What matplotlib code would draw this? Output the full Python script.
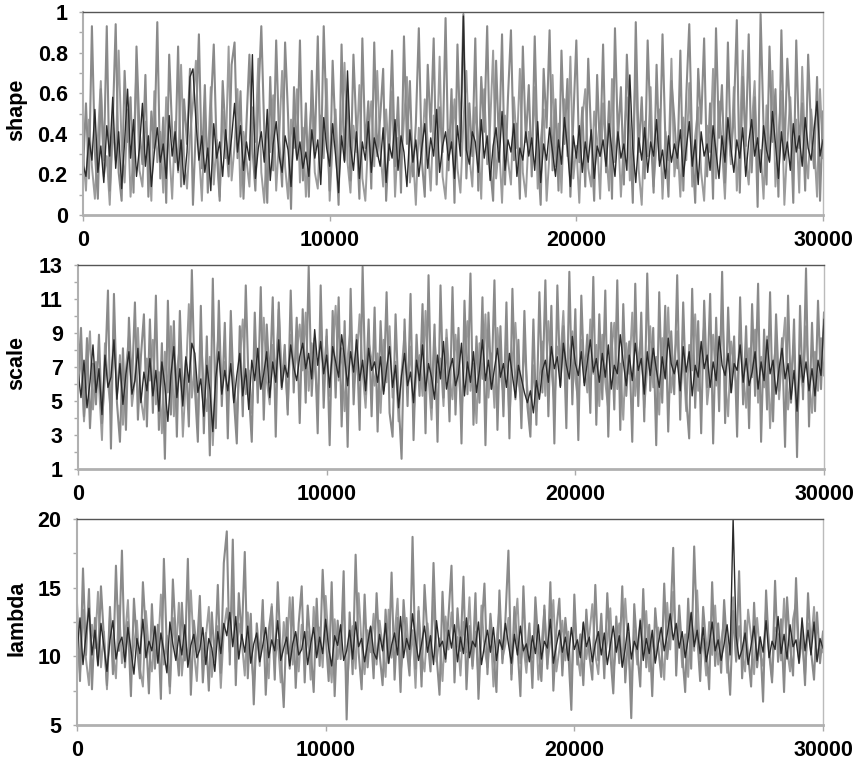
import matplotlib.pyplot as plt
import numpy as np
from matplotlib.ticker import FuncFormatter

plt.rcParams['font.family'] = ['Liberation Sans', 'DejaVu Sans']

# MCMC traces, three overlaid chains per parameter (one value every ~120 iterations)
shape_gray = [
    0.22, 0.55, 0.18, 0.93, 0.31, 0.08, 0.62, 0.27, 0.93, 0.12, 0.45, 0.94, 0.21, 0.07, 0.71, 0.36, 0.58, 0.11, 0.83, 0.42, 0.25, 0.69, 0.09, 0.51, 0.33,
    0.95, 0.18, 0.48, 0.06, 0.79, 0.41, 0.26, 0.83, 0.14, 0.57, 0.35, 0.72, 0.05, 0.44, 0.89, 0.23, 0.64, 0.11, 0.52, 0.84, 0.31, 0.07, 0.66, 0.39, 0.19,
    0.74, 0.85, 0.28, 0.61, 0.08, 0.45, 0.79, 0.33, 0.12, 0.57, 0.93, 0.41, 0.06, 0.68, 0.22, 0.86, 0.37, 0.14, 0.85, 0.49, 0.03, 0.63, 0.28, 0.86, 0.17,
    0.55, 0.09, 0.71, 0.32, 0.88, 0.21, 0.93, 0.44, 0.12, 0.76, 0.38, 0.05, 0.84, 0.27, 0.61, 0.17, 0.79, 0.42, 0.08, 0.87, 0.33, 0.56, 0.13, 0.85, 0.29,
    0.48, 0.72, 0.07, 0.38, 0.81, 0.24, 0.58, 0.11, 0.88, 0.35, 0.66, 0.19, 0.45, 0.92, 0.27, 0.09, 0.74, 0.41, 0.87, 0.15, 0.53, 0.31, 0.97, 0.22, 0.62,
    0.06, 0.84, 0.36, 0.99, 0.18, 0.55, 0.29, 0.87, 0.12, 0.68, 0.41, 0.93, 0.24, 0.07, 0.76, 0.33, 0.89, 0.15, 0.58, 0.91, 0.27, 0.45, 0.08, 0.83, 0.36,
    0.64, 0.19, 0.88, 0.31, 0.05, 0.72, 0.43, 0.91, 0.22, 0.57, 0.12, 0.81, 0.35, 0.67, 0.09, 0.48, 0.86, 0.26, 0.53, 0.14, 0.77, 0.38, 0.07, 0.69, 0.29,
    0.84, 0.21, 0.56, 0.08, 0.92, 0.37, 0.63, 0.15, 0.79, 0.44, 0.06, 0.95, 0.31, 0.58, 0.18, 0.86, 0.42, 0.11, 0.74, 0.27, 0.89, 0.35, 0.09, 0.66, 0.47,
    0.23, 0.81, 0.12, 0.59, 0.94, 0.33, 0.06, 0.72, 0.45, 0.87, 0.19, 0.55, 0.08, 0.92, 0.38, 0.64, 0.16, 0.85, 0.29, 0.49, 0.96, 0.11, 0.68, 0.34, 0.89,
    0.21, 0.58, 0.04, 0.99, 0.43, 0.15, 0.83, 0.36, 0.62, 0.09, 0.91, 0.28, 0.77, 0.47, 0.06, 0.86, 0.33, 0.55, 0.12, 0.79, 0.41, 0.23, 0.68, 0.07, 0.51,
]
shape_gray2 = [
    0.31, 0.12, 0.47, 0.24, 0.08, 0.38, 0.66, 0.19, 0.29, 0.05, 0.43, 0.27, 0.81, 0.34, 0.16, 0.52, 0.09, 0.31, 0.73, 0.22, 0.14, 0.46, 0.35, 0.07, 0.61,
    0.26, 0.41, 0.11, 0.58, 0.33, 0.08, 0.46, 0.21, 0.74, 0.29, 0.13, 0.39, 0.55, 0.76, 0.32, 0.07, 0.48, 0.26, 0.63, 0.15, 0.37, 0.09, 0.51, 0.28, 0.83,
    0.17, 0.34, 0.62, 0.09, 0.41, 0.27, 0.14, 0.53, 0.36, 0.77, 0.21, 0.06, 0.45, 0.31, 0.59, 0.12, 0.38, 0.71, 0.24, 0.08, 0.47, 0.33, 0.62, 0.16, 0.43,
    0.09, 0.36, 0.58, 0.21, 0.13, 0.49, 0.28, 0.67, 0.07, 0.35, 0.52, 0.19, 0.41, 0.75, 0.26, 0.11, 0.44, 0.31, 0.64, 0.18, 0.07, 0.39, 0.56, 0.24, 0.71,
    0.33, 0.14, 0.52, 0.27, 0.61, 0.09, 0.38, 0.22, 0.47, 0.68, 0.16, 0.31, 0.05, 0.43, 0.26, 0.57, 0.35, 0.12, 0.49, 0.28, 0.78, 0.19, 0.08, 0.42, 0.33,
    0.57, 0.23, 0.11, 0.46, 0.71, 0.29, 0.14, 0.53, 0.37, 0.08, 0.62, 0.25, 0.44, 0.81, 0.18, 0.35, 0.06, 0.49, 0.27, 0.15, 0.58, 0.33, 0.72, 0.21, 0.09,
    0.41, 0.28, 0.63, 0.13, 0.36, 0.52, 0.07, 0.31, 0.69, 0.24, 0.45, 0.11, 0.57, 0.29, 0.78, 0.18, 0.34, 0.06, 0.47, 0.62, 0.23, 0.14, 0.51, 0.37, 0.08,
    0.55, 0.32, 0.12, 0.67, 0.26, 0.43, 0.09, 0.38, 0.58, 0.17, 0.31, 0.74, 0.22, 0.05, 0.46, 0.29, 0.63, 0.14, 0.35, 0.52, 0.08, 0.41, 0.27, 0.77, 0.19,
    0.36, 0.09, 0.48, 0.27, 0.65, 0.14, 0.39, 0.53, 0.21, 0.07, 0.44, 0.31, 0.72, 0.18, 0.56, 0.33, 0.08, 0.47, 0.25, 0.63, 0.12, 0.38, 0.81, 0.29, 0.15,
    0.43, 0.66, 0.19, 0.32, 0.08, 0.54, 0.27, 0.71, 0.14, 0.39, 0.61, 0.05, 0.35, 0.58, 0.24, 0.47, 0.11, 0.73, 0.31, 0.18, 0.52, 0.36, 0.09, 0.62, 0.28,
]
shape_black = [
    0.25, 0.19, 0.38, 0.27, 0.52, 0.21, 0.34, 0.16, 0.44, 0.29, 0.58, 0.23, 0.41, 0.13, 0.36, 0.62, 0.28, 0.47, 0.19, 0.33, 0.55, 0.24, 0.39, 0.14, 0.31,
    0.43, 0.26, 0.35, 0.18, 0.49, 0.29, 0.41, 0.22, 0.37, 0.15, 0.31, 0.68, 0.72, 0.46, 0.27, 0.39, 0.21, 0.33, 0.12, 0.45, 0.28, 0.36, 0.19, 0.42, 0.25,
    0.38, 0.55, 0.31, 0.44, 0.22, 0.36, 0.27, 0.79, 0.18, 0.33, 0.41, 0.26, 0.52, 0.17, 0.35, 0.46, 0.29, 0.21, 0.39, 0.32, 0.14, 0.43, 0.27, 0.36, 0.23,
    0.31, 0.19, 0.42, 0.28, 0.37, 0.15, 0.48, 0.33, 0.24, 0.45, 0.29, 0.11, 0.39, 0.26, 0.71, 0.34, 0.22, 0.41, 0.18, 0.36, 0.27, 0.46, 0.21, 0.38, 0.31,
    0.24, 0.43, 0.16, 0.35, 0.28, 0.47, 0.22, 0.39, 0.31, 0.14, 0.42, 0.26, 0.37, 0.19, 0.33, 0.45, 0.23, 0.38, 0.29, 0.52, 0.21, 0.34, 0.41, 0.27, 0.36,
    0.18, 0.44, 0.29, 0.98, 0.32, 0.25, 0.41, 0.36, 0.21, 0.47, 0.28, 0.39, 0.17, 0.34, 0.43, 0.26, 0.51, 0.22, 0.37, 0.31, 0.45, 0.19, 0.33, 0.27, 0.41,
    0.29, 0.38, 0.22, 0.46, 0.16, 0.35, 0.27, 0.43, 0.31, 0.19, 0.37, 0.25, 0.48, 0.33, 0.14, 0.39, 0.28, 0.44, 0.21, 0.36, 0.26, 0.42, 0.18, 0.34, 0.29,
    0.37, 0.24, 0.45, 0.31, 0.19, 0.41, 0.28, 0.35, 0.22, 0.69, 0.33, 0.16, 0.38, 0.27, 0.43, 0.21, 0.36, 0.29, 0.47, 0.24, 0.32, 0.18, 0.39, 0.26, 0.35,
    0.28, 0.42, 0.19, 0.33, 0.46, 0.24, 0.37, 0.15, 0.41, 0.29, 0.35, 0.22, 0.44, 0.31, 0.18, 0.39, 0.26, 0.48, 0.33, 0.21, 0.37, 0.28, 0.43, 0.19, 0.36,
    0.47, 0.29, 0.38, 0.21, 0.44, 0.32, 0.26, 0.51, 0.35, 0.18, 0.41, 0.27, 0.36, 0.22, 0.45, 0.31, 0.39, 0.24, 0.48, 0.33, 0.27, 0.42, 0.56, 0.29, 0.37,
]

scale_gray = [
    6.2, 9.3, 4.1, 8.7, 3.4, 7.2, 4.8, 8.9, 3.7, 6.5, 11.5, 2.2, 11.3, 4.9, 2.6, 8.1, 3.3, 9.9, 5.8, 10.8, 3.9, 7.6, 10.1, 3.5, 9.8,
    4.3, 11.2, 3.3, 8.4, 1.6, 10.9, 4.2, 9.7, 2.9, 10.3, 5.1, 7.4, 3.5, 12.7, 5.8, 2.6, 10.6, 3.1, 8.8, 1.8, 12.2, 3.4, 10.9, 4.7, 9.6,
    2.8, 10.3, 5.2, 2.5, 9.4, 4.1, 11.8, 5.6, 2.6, 10.2, 4.9, 11.7, 3.9, 9.5, 6.1, 11.1, 2.9, 10.8, 5.7, 8.3, 4.2, 11.5, 5.5, 9.9, 3.7,
    10.4, 4.9, 12.9, 5.3, 8.7, 3.1, 11.8, 4.6, 9.2, 2.4, 10.3, 5.2, 11.1, 3.5, 9.7, 2.3, 11.6, 4.8, 8.9, 3.3, 12.9, 5.4, 9.8, 4.1, 10.5,
    3.2, 9.7, 5.6, 11.4, 4.3, 2.9, 10.1, 5.1, 1.6, 9.8, 4.7, 11.3, 2.7, 8.9, 5.3, 10.7, 3.1, 12.4, 4.6, 9.5, 2.6, 11.8, 5.2, 8.7, 3.8,
    11.7, 4.2, 9.3, 2.5, 10.9, 5.4, 12.5, 3.6, 8.8, 4.9, 11.1, 2.4, 10.2, 5.7, 12.1, 3.3, 9.4, 4.1, 10.8, 2.8, 11.6, 5.1, 8.6, 3.4, 10.3,
    4.7, 2.9, 9.8, 3.6, 11.4, 5.5, 12.1, 4.1, 10.6, 2.5, 11.8, 5.9, 9.4, 3.4, 12.6, 4.8, 10.4, 2.7, 11.2, 6.1, 8.9, 4.3, 12.3, 3.6, 10.1,
    5.1, 11.5, 2.9, 9.6, 4.5, 12.1, 3.3, 10.7, 5.3, 8.5, 2.6, 11.9, 4.7, 10.2, 3.8, 12.5, 5.6, 9.3, 2.4, 11.4, 4.9, 10.6, 3.2, 9.1, 5.4,
    12.4, 3.9, 10.8, 5.2, 2.8, 11.6, 4.6, 9.7, 3.1, 10.9, 5.8, 11.3, 2.5, 9.9, 4.4, 12.6, 3.7, 10.5, 5.5, 8.8, 2.9, 11.1, 4.8, 9.4, 3.4,
    10.7, 5.3, 11.9, 2.6, 9.2, 4.5, 11.4, 3.8, 10.1, 5.6, 8.7, 2.3, 11.2, 4.9, 9.8, 1.7, 10.6, 5.1, 12.8, 3.5, 9.6, 4.4, 10.9, 5.7, 10.2,
]
scale_gray2 = [
    5.4, 7.9, 3.8, 6.6, 9.1, 4.5, 7.3, 5.9, 2.7, 8.4, 6.1, 4.2, 9.6, 5.3, 7.7, 3.6, 6.9, 8.8, 4.7, 6.3, 9.3, 5.1, 3.9, 7.5, 6.2,
    8.6, 4.8, 6.7, 3.1, 7.9, 5.5, 9.4, 4.1, 6.8, 8.2, 2.9, 6.4, 10.7, 5.2, 7.1, 3.7, 8.9, 5.8, 4.4, 7.6, 2.4, 6.9, 9.2, 5.6, 7.3,
    4.6, 8.1, 6.3, 3.9, 7.4, 9.8, 5.4, 6.8, 4.3, 8.5, 7.1, 5.7, 9.9, 6.2, 4.8, 8.3, 6.6, 10.4, 5.9, 7.7, 4.5, 8.9, 6.4, 7.8, 9.5,
    6.8, 10.2, 5.6, 8.4, 7.1, 4.9, 9.7, 6.5, 8.8, 5.3, 7.9, 10.6, 6.2, 8.1, 4.4, 7.6, 9.3, 5.8, 7.2, 10.1, 6.7, 4.6, 8.5, 7.4, 5.9,
    7.8, 4.3, 8.6, 6.1, 9.4, 5.2, 7.3, 3.8, 6.7, 9.1, 5.5, 8.2, 4.1, 6.9, 7.7, 5.3, 10.3, 6.4, 3.9, 8.7, 6.1, 7.5, 4.7, 9.2, 6.3,
    5.1, 8.9, 6.8, 4.2, 7.6, 9.7, 5.6, 7.2, 3.7, 8.4, 6.3, 10.1, 5.2, 7.8, 4.6, 9.3, 6.7, 5.4, 8.1, 3.9, 7.4, 9.6, 6.2, 4.8, 8.3,
    5.7, 3.6, 7.1, 4.4, 6.2, 8.5, 5.3, 9.7, 6.9, 4.8, 8.2, 7.4, 10.3, 5.9, 7.7, 9.1, 6.3, 4.9, 8.6, 7.2, 5.5, 9.8, 6.6, 8.3, 4.7,
    8.9, 6.1, 4.5, 7.8, 9.6, 5.7, 7.2, 3.9, 8.4, 6.6, 10.2, 5.3, 7.5, 8.8, 4.6, 6.9, 9.4, 5.8, 7.6, 4.2, 8.7, 6.4, 10.5, 5.5, 7.3,
    9.1, 5.2, 7.7, 4.4, 8.3, 6.8, 10.1, 5.6, 7.4, 9.5, 4.8, 6.6, 8.9, 5.9, 7.2, 10.4, 6.3, 4.1, 8.5, 7.1, 5.4, 9.3, 6.7, 4.6, 8.1,
    6.4, 9.2, 4.9, 7.6, 5.8, 8.8, 3.4, 6.9, 8.3, 5.1, 7.7, 9.9, 4.5, 6.6, 8.4, 3.2, 7.1, 5.7, 9.4, 6.2, 4.3, 7.9, 5.6, 8.7, 6.5,
]
scale_black = [
    6.8, 5.2, 7.4, 4.6, 6.1, 8.3, 5.5, 6.9, 4.2, 7.7, 5.8, 6.4, 8.6, 5.1, 7.2, 4.8, 6.6, 7.9, 5.4, 6.2, 8.1, 4.9, 6.7, 5.6, 7.5,
    5.3, 6.8, 4.4, 7.3, 5.9, 3.8, 6.5, 8.2, 5.2, 6.9, 4.7, 7.6, 6.1, 8.4, 7.8, 5.5, 6.3, 4.1, 7.1, 5.7, 3.2, 6.4, 7.9, 5.4, 6.8,
    5.6, 7.2, 4.9, 6.5, 7.8, 5.3, 6.9, 4.5, 7.4, 6.2, 8.1, 5.7, 6.6, 7.9, 5.2, 7.3, 6.1, 8.6, 5.8, 7.1, 6.4, 8.3, 7.0, 6.2, 7.6,
    8.4, 6.9, 7.8, 6.3, 9.2, 7.1, 8.5, 6.6, 7.7, 5.8, 8.2, 7.3, 6.4, 8.9, 7.5, 5.9, 7.9, 6.7, 8.6, 6.2, 7.4, 5.6, 8.1, 6.8, 7.3,
    6.1, 7.6, 5.4, 6.9, 8.2, 5.8, 7.1, 4.6, 6.5, 7.8, 5.9, 6.7, 4.9, 7.4, 6.2, 8.3, 5.6, 7.2, 6.4, 5.1, 7.7, 6.3, 8.5, 5.7, 6.8,
    7.5, 5.9, 6.6, 8.4, 5.3, 7.3, 6.1, 7.9, 5.5, 6.8, 8.6, 6.2, 7.4, 5.7, 6.9, 8.1, 6.4, 7.2, 5.8, 7.8, 6.5, 5.2, 7.1, 6.3, 5.5,
    4.9, 5.6, 4.3, 6.2, 5.1, 6.8, 7.4, 6.1, 8.2, 6.9, 7.6, 5.8, 8.4, 7.1, 6.3, 8.8, 7.2, 6.5, 7.9, 5.9, 7.3, 8.6, 6.7, 7.5, 6.1,
    7.8, 6.4, 8.3, 5.7, 7.1, 6.6, 8.9, 7.3, 5.9, 7.7, 6.2, 8.4, 6.8, 7.5, 5.4, 7.9, 6.5, 8.1, 6.9, 5.8, 7.6, 6.3, 8.7, 7.2, 6.6,
    7.4, 5.6, 8.2, 6.7, 7.9, 5.3, 7.1, 6.4, 8.5, 6.9, 7.7, 5.8, 7.3, 6.2, 8.8, 7.1, 6.5, 7.8, 5.5, 7.2, 6.8, 8.3, 6.1, 7.5, 5.9,
    6.7, 7.9, 5.7, 7.3, 6.2, 8.6, 6.6, 7.4, 5.4, 6.9, 8.1, 6.3, 7.2, 5.1, 6.8, 4.4, 7.7, 6.1, 7.3, 5.6, 6.9, 5.3, 7.4, 6.5, 9.8,
]

lambda_gray = [
    13.8, 8.2, 16.4, 10.1, 14.9, 7.6, 12.8, 9.4, 15.1, 11.3, 7.9, 13.6, 8.7, 16.6, 10.4, 17.7, 9.2, 12.5, 7.1, 14.2, 10.8, 8.4, 15.4, 11.6, 7.3,
    13.8, 9.1, 12.3, 6.9, 17.1, 10.5, 7.8, 15.6, 11.2, 8.6, 13.9, 9.7, 17.1, 7.2, 12.6, 10.3, 14.4, 8.1, 11.7, 7.5, 13.2, 9.6, 15.2, 8.8, 16.8,
    19.1, 9.4, 18.5, 7.9, 14.6, 11.3, 17.6, 8.4, 13.1, 6.5, 12.4, 9.8, 14.1, 7.2, 11.9, 13.6, 8.3, 15.4, 10.2, 6.3, 12.8, 9.1, 14.3, 7.7, 12.4,
    15.1, 8.1, 13.7, 10.6, 7.4, 14.2, 9.3, 16.3, 11.5, 8.2, 15.4, 7.1, 12.6, 9.8, 16.2, 5.4, 13.2, 8.7, 17.4, 10.3, 7.6, 14.5, 9.2, 12.1, 8.4,
    14.6, 10.2, 7.9, 13.4, 9.5, 16.1, 8.3, 12.8, 7.4, 14.1, 10.7, 8.6, 18.7, 9.1, 13.3, 7.8, 15.2, 11.4, 8.9, 16.8, 10.1, 7.2, 14.7, 9.6, 12.9,
    16.6, 8.1, 13.5, 10.4, 15.8, 7.6, 12.2, 9.3, 14.6, 6.9, 11.8, 15.3, 8.7, 13.1, 10.2, 7.4, 14.8, 9.5, 12.7, 17.7, 8.3, 13.6, 10.9, 7.1, 15.1,
    9.6, 12.4, 7.7, 14.3, 10.8, 8.2, 13.7, 9.1, 15.4, 7.5, 11.9, 14.2, 8.6, 12.8, 10.3, 6.1, 14.5, 9.4, 11.6, 7.9, 13.4, 10.1, 8.3, 15.2, 9.7,
    13.1, 8.4, 14.6, 10.2, 7.3, 12.9, 9.5, 15.1, 8.1, 11.7, 5.5, 13.8, 10.4, 7.8, 14.9, 9.2, 12.3, 7.1, 13.5, 10.7, 8.5, 15.3, 9.8, 12.2, 17.9,
    8.6, 13.7, 10.3, 7.4, 14.2, 9.1, 18.0, 11.5, 8.2, 13.6, 10.8, 7.6, 15.4, 9.3, 12.4, 8.8, 14.1, 10.5, 7.2, 13.3, 9.7, 16.2, 8.4, 12.6, 10.1,
    7.8, 13.9, 9.2, 11.4, 6.7, 14.8, 10.3, 8.1, 15.5, 9.6, 12.7, 7.4, 14.3, 10.8, 8.6, 15.7, 9.9, 12.1, 7.9, 14.6, 10.4, 8.3, 13.2, 9.5, 11.8,
]
lambda_gray2 = [
    11.6, 8.7, 13.4, 9.8, 7.9, 12.3, 10.6, 14.7, 9.2, 11.8, 7.6, 12.9, 10.3, 8.4, 13.7, 9.5, 11.2, 14.1, 8.8, 10.7, 12.6, 9.1, 7.8, 13.3, 10.4,
    8.9, 12.1, 10.2, 14.5, 9.4, 11.5, 7.3, 12.8, 10.1, 13.9, 8.6, 11.3, 9.7, 14.8, 10.5, 8.2, 12.7, 9.9, 11.4, 13.6, 8.5, 10.8, 12.2, 7.7, 11.9,
    13.5, 10.3, 14.9, 9.1, 12.4, 11.1, 8.6, 13.2, 10.4, 7.9, 11.7, 9.3, 12.9, 10.6, 8.4, 13.8, 9.7, 11.2, 8.1, 12.5, 10.2, 14.3, 9.4, 11.6, 8.9,
    12.3, 9.5, 11.8, 8.3, 13.6, 10.4, 12.1, 9.2, 14.4, 10.9, 8.1, 12.7, 9.8, 11.3, 13.9, 7.4, 10.6, 12.2, 9.1, 14.6, 10.8, 8.7, 11.9, 10.3, 13.1,
    9.4, 12.6, 10.7, 8.5, 13.4, 9.9, 11.5, 14.2, 8.8, 10.6, 12.8, 9.3, 11.9, 7.7, 13.6, 10.2, 8.9, 12.4, 10.1, 14.1, 9.6, 11.3, 8.2, 12.9, 10.5,
    13.2, 9.7, 11.4, 8.6, 12.5, 10.3, 14.3, 9.1, 11.8, 8.4, 13.7, 10.6, 9.2, 12.3, 7.8, 11.1, 13.5, 9.8, 10.9, 12.8, 8.7, 11.6, 14.2, 9.5, 10.8,
    8.8, 11.7, 9.9, 12.9, 8.3, 10.7, 13.4, 9.4, 11.2, 14.1, 8.9, 10.5, 12.6, 9.7, 11.8, 7.9, 13.2, 10.3, 8.6, 12.4, 9.8, 11.5, 13.8, 10.1, 8.7,
    12.2, 9.6, 11.1, 13.5, 8.7, 10.9, 12.4, 9.3, 14.2, 10.6, 7.8, 11.9, 9.4, 12.7, 10.2, 13.3, 8.9, 11.4, 9.7, 12.1, 10.8, 8.3, 13.9, 10.5, 14.7,
    10.7, 12.9, 9.2, 11.6, 8.5, 13.1, 10.4, 14.8, 9.8, 11.3, 8.6, 12.5, 10.1, 13.7, 9.4, 11.1, 12.6, 8.8, 10.9, 14.3, 9.6, 12.2, 10.3, 8.9, 13.4,
    11.4, 8.7, 12.8, 10.2, 9.3, 13.5, 10.8, 8.4, 12.1, 11.6, 9.7, 14.2, 10.5, 8.9, 12.7, 13.9, 9.5, 11.3, 8.6, 12.4, 10.9, 13.6, 9.8, 11.1, 10.3,
]
lambda_black = [
    10.2, 12.8, 9.4, 11.6, 13.5, 10.1, 11.9, 9.3, 12.4, 10.7, 8.9, 11.2, 12.6, 9.8, 10.9, 11.4, 9.6, 12.1, 10.5, 8.7, 11.3, 10.2, 12.7, 9.9, 11.1,
    10.4, 12.2, 9.5, 11.7, 10.3, 8.8, 12.5, 10.9, 9.7, 11.5, 10.1, 12.3, 9.2, 10.8, 11.6, 9.9, 10.5, 12.1, 9.4, 11.3, 10.6, 8.9, 11.8, 10.2, 12.4,
    11.5, 13.2, 10.7, 12.9, 9.8, 11.6, 10.3, 12.2, 9.5, 10.9, 11.7, 9.6, 10.8, 12.1, 9.9, 11.2, 10.4, 12.6, 9.7, 10.6, 11.4, 9.3, 10.9, 11.8, 10.1,
    10.5, 11.8, 9.4, 10.9, 12.1, 9.9, 11.4, 10.2, 12.7, 10.6, 9.3, 11.5, 10.8, 12.3, 9.7, 10.4, 11.9, 9.8, 12.5, 10.7, 11.3, 9.6, 10.9, 12.2, 10.3,
    9.8, 11.6, 10.4, 12.4, 9.5, 10.8, 11.7, 10.1, 12.9, 9.9, 11.3, 10.5, 13.1, 11.2, 9.7, 10.9, 12.2, 10.3, 11.5, 9.4, 12.6, 10.7, 11.1, 9.8, 11.9,
    10.6, 12.3, 9.6, 11.4, 10.2, 12.8, 9.9, 11.1, 10.7, 12.5, 9.4, 10.8, 11.9, 10.3, 12.1, 9.7, 11.2, 10.5, 12.4, 10.9, 9.5, 11.6, 10.1, 12.2, 10.4,
    10.9, 9.6, 11.5, 10.2, 12.3, 9.8, 11.1, 10.6, 12.7, 9.5, 10.8, 11.9, 10.3, 11.4, 9.7, 12.1, 10.5, 11.2, 9.9, 12.5, 10.7, 11.4, 9.6, 10.9, 11.8,
    10.1, 11.7, 9.4, 10.8, 12.2, 10.3, 11.5, 9.2, 10.6, 12.4, 9.8, 11.1, 10.5, 12.6, 9.7, 11.3, 10.2, 11.9, 9.5, 10.9, 12.1, 10.4, 11.6, 13.1, 11.2,
    12.4, 10.6, 11.8, 9.9, 11.3, 13.2, 10.7, 11.9, 10.2, 12.1, 9.6, 10.8, 12.5, 10.4, 11.2, 9.7, 10.9, 12.3, 10.1, 20.0, 11.5, 9.8, 10.5, 11.7, 9.4,
    10.8, 12.2, 9.7, 11.4, 10.3, 12.6, 9.9, 11.1, 10.5, 12.9, 10.2, 11.6, 9.8, 12.3, 10.7, 11.2, 9.5, 12.8, 10.4, 11.9, 10.1, 12.5, 9.6, 11.3, 10.6,
]

shape_ticks = [0, 0.2, 0.4, 0.6, 0.8, 1]
scale_ticks = [1, 3, 5, 7, 9, 11, 13]
lambda_ticks = [5, 10, 15, 20]
x_ticks = [0, 10000, 20000, 30000]

n_iter = 30000
panels = [
    ("shape", [shape_gray2, shape_gray, shape_black], shape_ticks, 0.1, [83, 12, 823, 215], 110),
    ("scale", [scale_gray2, scale_gray, scale_black], scale_ticks, 1, [78, 265, 824, 469], 363),
    ("lambda", [lambda_gray2, lambda_gray, lambda_black], lambda_ticks, 2.5, [77, 519, 823, 725], 618),
]
line_styles = [("#9c9c9c", 1.4), ("#8a8a8a", 1.5), ("#2a2a2a", 1.0)]

W, H = 854, 760
fig = plt.figure(figsize=(W / 100, H / 100), dpi=100)

for name, chains, yticks, minor, box, label_y in panels:
    x0, y0, x1, y1 = box
    ax = fig.add_axes([x0 / W, 1 - y1 / H, (x1 - x0) / W, (y1 - y0) / H])
    for vals, (col, lw) in zip(chains, line_styles):
        xs = np.linspace(0, n_iter, len(vals))
        ax.plot(xs, vals, color=col, lw=lw)

    ax.set_xlim(0, n_iter)
    ax.set_ylim(yticks[0], yticks[-1])
    ax.set_xticks(x_ticks)
    ax.set_yticks(yticks)
    ax.set_yticks(np.arange(yticks[0], yticks[-1] + minor / 2, minor), minor=True)
    ax.yaxis.set_major_formatter(FuncFormatter(lambda v, p: "%g" % v))

    ax.tick_params(axis="both", which="both", direction="out", color="#aaaaaa",
                   labelsize=15.5, width=1)
    ax.tick_params(axis="x", length=4, pad=7)
    ax.tick_params(axis="y", which="major", length=3, pad=8)
    ax.tick_params(axis="y", which="minor", length=3)
    for lab in ax.get_xticklabels() + ax.get_yticklabels():
        lab.set_fontweight("bold")

    ax.spines["top"].set_color("#555555")
    ax.spines["top"].set_linewidth(1.0)
    ax.spines["left"].set_color("#b0b0b0")
    ax.spines["left"].set_linewidth(1.5)
    ax.spines["bottom"].set_color("#b0b0b0")
    ax.spines["bottom"].set_linewidth(2.0)
    ax.spines["right"].set_color("#bbbbbb")
    ax.spines["right"].set_linewidth(1.0)

    fig.text(17 / W, 1 - label_y / H, name, rotation=90, ha="center", va="center",
             fontsize=15.5, fontweight="bold")

fig.savefig("out.png", dpi=100)
